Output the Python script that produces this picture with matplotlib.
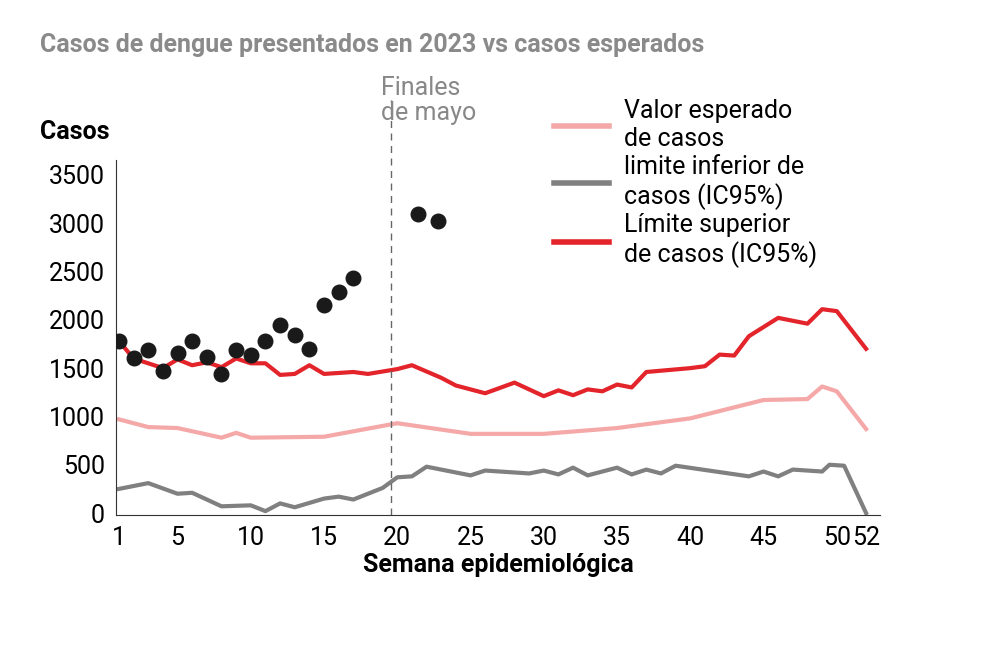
import matplotlib
matplotlib.use("Agg")
import matplotlib.pyplot as plt

plt.rcParams["font.family"] = ["Roboto", "DejaVu Sans"]

# observed cases 2023
obs_weeks = [1, 2, 3, 4, 5, 6, 7, 8, 9, 10, 11, 12, 13, 14, 15, 16, 17, 21.4, 22.8]
obs_cases = [1780, 1600, 1690, 1470, 1660, 1780, 1620, 1440, 1690, 1640, 1780, 1950,
             1840, 1700, 2150, 2290, 2430, 3090, 3020]

# upper limit (IC95%)
up_weeks = [1, 2, 3, 4, 5, 6, 7, 8, 9, 10, 11, 12, 13, 14, 15, 17, 18, 20, 21, 23, 24,
            26, 28, 30, 31, 32, 33, 34, 35, 36, 37, 40, 41, 42, 43, 44, 46, 48, 49, 50, 52]
up_cases = [1780, 1600, 1550, 1500, 1590, 1530, 1560, 1510, 1600, 1550, 1550, 1430,
            1440, 1530, 1440, 1460, 1440, 1490, 1530, 1400, 1320, 1240, 1350, 1210,
            1270, 1220, 1280, 1260, 1330, 1300, 1460, 1500, 1520, 1640, 1630, 1830,
            2020, 1960, 2110, 2090, 1700]

# expected value
exp_weeks = [1, 3, 5, 8, 9, 10, 15, 20, 25, 30, 35, 40, 45, 48, 49, 50, 52]
exp_cases = [970, 890, 880, 780, 830, 780, 790, 930, 820, 820, 880, 980, 1170, 1180,
             1310, 1260, 870]

# lower limit (IC95%)
low_weeks = [1, 3, 5, 6, 8, 10, 11, 12, 13, 15, 16, 17, 19, 20, 21, 22, 25, 26, 29, 30,
             31, 32, 33, 35, 36, 37, 38, 39, 44, 45, 46, 47, 49, 49.5, 50.5, 52]
low_cases = [250, 310, 200, 210, 70, 80, 20, 100, 60, 150, 170, 140, 260, 370, 380, 480,
             390, 440, 410, 440, 400, 470, 390, 470, 400, 450, 410, 490, 380, 430, 380,
             450, 430, 500, 490, 0]

xticks = [1, 5, 10, 15, 20, 25, 30, 35, 40, 45, 50, 52]
yticks = [0, 500, 1000, 1500, 2000, 2500, 3000, 3500]

fig = plt.figure(figsize=(9.99, 6.47), dpi=100)
ax = fig.add_axes([116 / 999, 1 - 515 / 647, (880 - 116) / 999, (515 - 160) / 647])

ax.plot(exp_weeks, exp_cases, color="#f4a9a8", lw=3, label="Valor esperado\nde casos")
ax.plot(low_weeks, low_cases, color="#808080", lw=3, label="limite inferior de\ncasos (IC95%)")
ax.plot(up_weeks, up_cases, color="#e3242b", lw=3, label="Límite superior\nde casos (IC95%)")
ax.scatter(obs_weeks, obs_cases, s=110, color="#1a1a1a", zorder=5)

ax.axvline(19.6, color="#666666", lw=1, ls=(0, (5, 4)), ymin=0, ymax=1.17, clip_on=False)
ax.text(18.9, 4020, "Finales\nde mayo", fontsize=18, color="#888888", va="bottom",
        ha="left", linespacing=1.05)

ax.set_xlim(0.8, 52.95)
ax.set_ylim(-20, 3654)
ax.set_xticks(xticks)
ax.set_yticks(yticks)
ax.tick_params(length=0, labelsize=18, pad=8)
for s in ["top", "right"]:
    ax.spines[s].set_visible(False)
ax.spines["left"].set_color("#333333")
ax.spines["bottom"].set_color("#333333")
ax.set_xlabel("Semana epidemiológica", fontsize=18, fontweight="bold", labelpad=2)

fig.text(40 / 999, 1 - 132 / 647, "Casos", fontsize=18, fontweight="bold", va="center")
fig.text(40 / 999, 1 - 45 / 647, "Casos de dengue presentados en 2023 vs casos esperados",
         fontsize=18, fontweight="bold", color="#8a8a8a", va="center")

leg = ax.legend(loc="upper left", bbox_to_anchor=(0.56, 1.2), frameon=False,
                fontsize=18, handlelength=2.2, labelspacing=0.15, handletextpad=0.6,
                borderaxespad=0)
for line in leg.get_lines():
    line.set_linewidth(4)

fig.savefig("out.png", dpi=100)
